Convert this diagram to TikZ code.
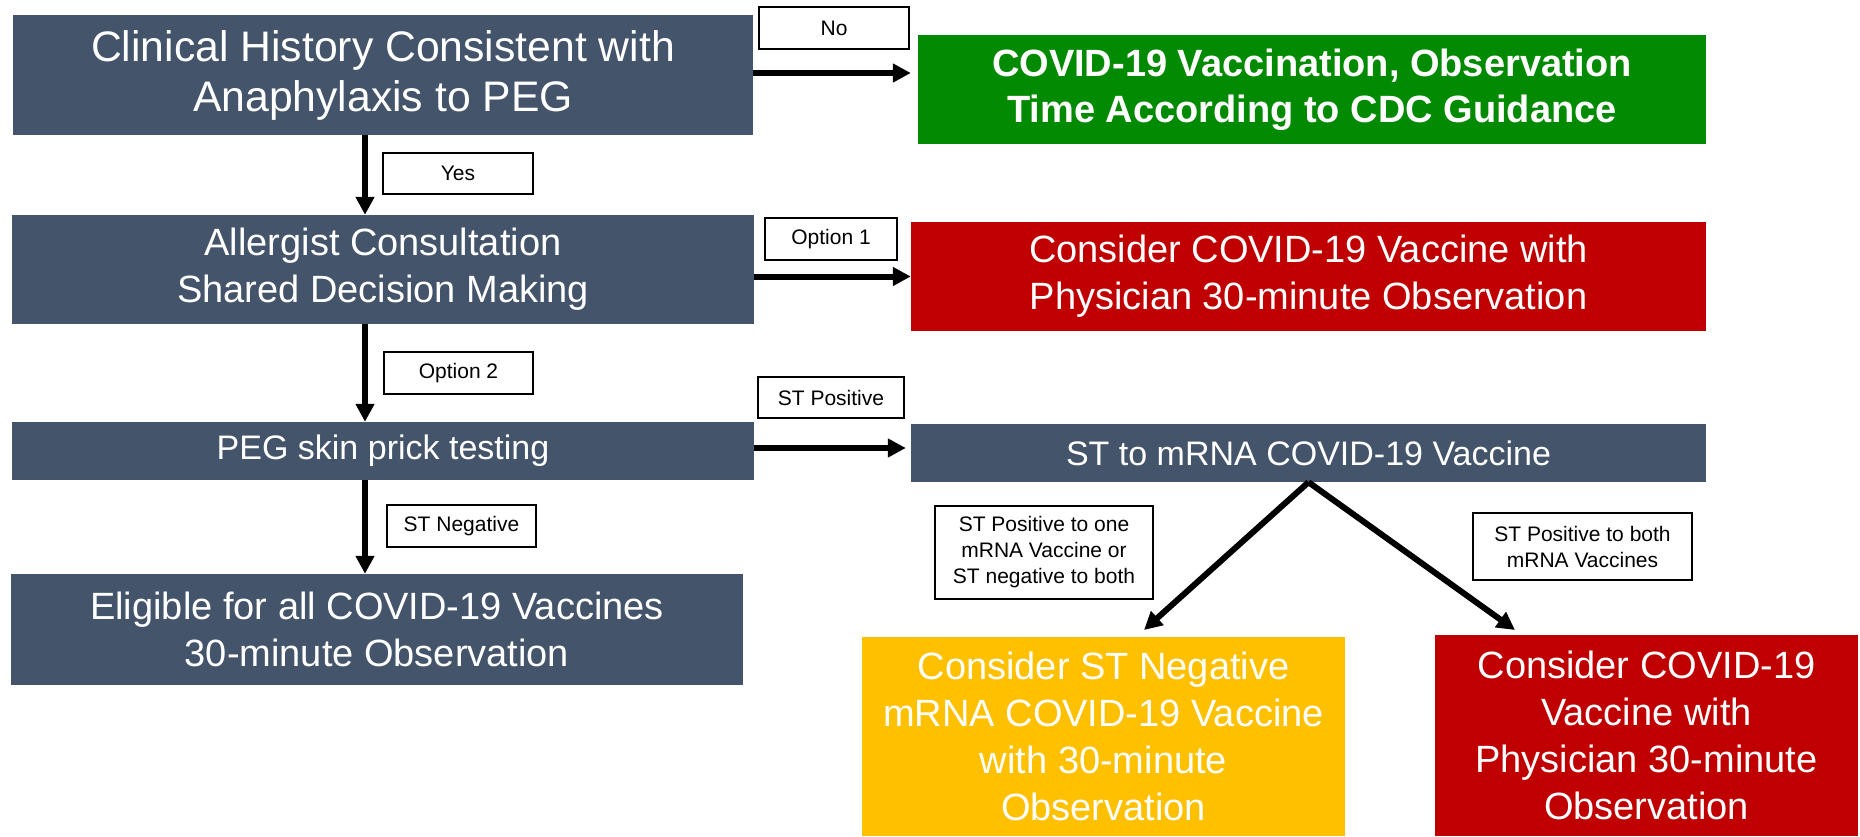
\documentclass[tikz,border=0pt]{standalone}
\usepackage{fontspec}
\setmainfont{Liberation Sans}
\definecolor{slate}{HTML}{44546A}
\definecolor{okgreen}{HTML}{038A03}
\definecolor{alertred}{HTML}{C00000}
\definecolor{amber}{HTML}{FFC000}
\usetikzlibrary{arrows.meta}
\tikzset{
	box/.style={rectangle, inner sep=0pt, align=center, text=white, font=\fontsize{38}{47}\selectfont},
	slatebox/.style={box, fill=slate},
	greenbox/.style={box, fill=okgreen, font=\fontsize{38}{46}\selectfont\bfseries},
	redbox/.style={box, fill=alertred},
	amberbox/.style={box, fill=amber},
	tagbox/.style={rectangle, draw=black, line width=1.2pt, fill=white, inner sep=0pt, align=center, font=\fontsize{21}{26}\selectfont},
	arrow/.style={-{Triangle[length=18pt, width=18pt]}, line width=6pt},
}

\begin{document}
\begin{tikzpicture}[x=1pt, y=-1pt]
		\useasboundingbox (0,0) rectangle (1860,836);
		% left column
		\node[slatebox, minimum width=740pt, minimum height=120pt, font=\fontsize{42.7}{50}\selectfont] (history) at (383,75) {Clinical History Consistent with\\Anaphylaxis to PEG};
		\node[slatebox, minimum width=742pt, minimum height=109pt] (consult) at (383,269.5) {Allergist Consultation\\Shared Decision Making};
		\node[slatebox, minimum width=742pt, minimum height=58pt, font=\fontsize{34}{40}\selectfont] (skin) at (383,451) {PEG skin prick testing};
		\node[slatebox, minimum width=732pt, minimum height=111pt] (eligible) at (377,629.5) {Eligible for all COVID-19 Vaccines\\30-minute Observation};
		% right column
		\node[greenbox, minimum width=788pt, minimum height=109pt] (routine) at (1312,89.5) {COVID-19 Vaccination, Observation\\Time According to CDC Guidance};
		\node[redbox, minimum width=795pt, minimum height=109pt] (observe) at (1308.5,276.5) {Consider COVID-19 Vaccine with\\Physician 30-minute Observation};
		\node[slatebox, minimum width=795pt, minimum height=58pt, font=\fontsize{34}{40}\selectfont] (mrna) at (1308.5,453) {ST to mRNA COVID-19 Vaccine};
		\node[amberbox, minimum width=483pt, minimum height=199pt] (negvax) at (1103.5,736.5) {Consider ST Negative\\mRNA COVID-19 Vaccine\\with 30-minute\\Observation};
		\node[redbox, minimum width=423pt, minimum height=201pt] (posvax) at (1646.5,735.5) {Consider COVID-19\\Vaccine with\\Physician 30-minute\\Observation};
		% branch labels
		\node[tagbox, minimum width=150pt, minimum height=42pt] (no) at (834,28) {No};
		\node[tagbox, minimum width=150pt, minimum height=41pt] (yes) at (458,173.5) {Yes};
		\node[tagbox, minimum width=132pt, minimum height=42pt] (opt1) at (831,239) {Option 1};
		\node[tagbox, minimum width=149pt, minimum height=42pt] (opt2) at (458.5,373) {Option 2};
		\node[tagbox, minimum width=146pt, minimum height=41pt] (stpos) at (831,397.5) {ST Positive};
		\node[tagbox, minimum width=149pt, minimum height=42pt] (stneg) at (461.5,526) {ST Negative};
		\node[tagbox, minimum width=218pt, minimum height=93pt] (oneneg) at (1044,552.5) {ST Positive to one\\mRNA Vaccine or\\ST negative to both};
		\node[tagbox, minimum width=219pt, minimum height=67pt] (bothpos) at (1582.5,546.5) {ST Positive to both\\mRNA Vaccines};
		% connectors
		\coordinate (spine) at (365,0);
		\coordinate (leftend) at (1144,630);
		\coordinate (rightend) at (1515,630);
		\draw[arrow, shorten >=7pt] (history.east |- 0,73) -- (routine.west |- 0,73);
		\draw[arrow] (consult.east |- observe.west) -- (observe.west);
		\draw[arrow, shorten >=5pt] (skin.east |- 0,448) -- (mrna.west |- 0,448);
		\draw[arrow] (history.south -| spine) -- (consult.north -| spine);
		\draw[arrow] (consult.south -| spine) -- (skin.north -| spine);
		\draw[arrow] (skin.south -| spine) -- (eligible.north -| spine);
		\draw[arrow] (mrna.south) -- (leftend);
		\draw[arrow] (mrna.south) -- (rightend);
	\end{tikzpicture}
\end{document}
